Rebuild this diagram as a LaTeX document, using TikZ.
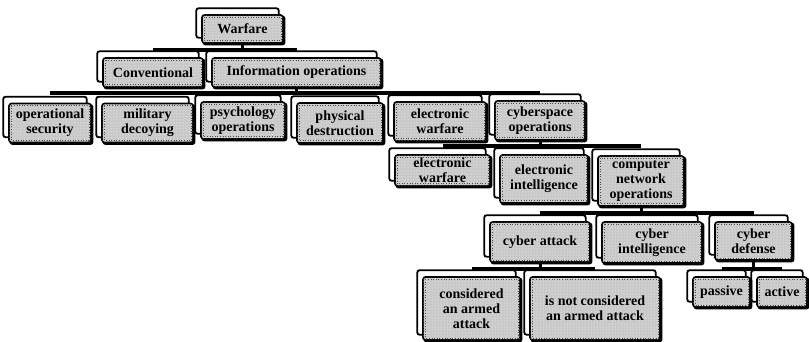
\documentclass[tikz,border=0pt]{standalone}
\usepackage{fontspec}
\setmainfont{Liberation Serif}
\usetikzlibrary{patterns}
\pgfdeclarelayer{bars}
\pgfdeclarelayer{backs}
\pgfdeclarelayer{shadows}
\pgfsetlayers{bars,backs,shadows,main}
\definecolor{boxgray}{RGB}{200,200,200}
\tikzset{
  frontbox/.style={draw=black, line width=1.6pt, rounded corners=2.5pt, fill=boxgray,
    postaction={pattern=dots, pattern color=white},
    align=center, inner sep=1pt, text=black,
    font=\fontsize{14}{14.8}\selectfont\bfseries},
  backbox/.style={draw=black, line width=1.8pt, rounded corners=2.5pt, fill=white},
  shadowbox/.style={fill=black, rounded corners=2.5pt},
  innerdots/.style={draw=black!70, line width=0.6pt, dotted},
  bar/.style={draw=black, line width=4.5pt},
  stem/.style={draw=black, line width=3pt},
}
\newcommand\obox[6]{%
  \node[frontbox, minimum width=#4pt, minimum height=#5pt] (#1) at (#2,#3) {#6};
  \begin{pgfonlayer}{backs}
    \draw[backbox] ([shift={(-5pt,6pt)}]#1.south west) rectangle ([shift={(-5pt,6pt)}]#1.north east);
  \end{pgfonlayer}
  \begin{pgfonlayer}{shadows}
    \fill[shadowbox] ([shift={(1.5pt,-1.5pt)}]#1.south west) rectangle ([shift={(1.5pt,-1.5pt)}]#1.north east);
  \end{pgfonlayer}
  \draw[innerdots] ([shift={(3pt,-3pt)}]#1.north west) rectangle ([shift={(-3pt,3pt)}]#1.south east);
}
\begin{document}
\begin{tikzpicture}[x=1pt,y=-1pt]
\useasboundingbox (0,0) rectangle (809,342);

\obox{warfare}{242.5}{29}{81}{28}{Warfare}
\obox{conv}{153}{72.5}{100}{29}{Conventional}
\obox{info}{296.5}{72.5}{169}{29}{Information operations}
\obox{opsec}{50}{123}{82}{39}{operational\\security}
\obox{decoy}{147.5}{123}{91}{39}{military\\decoying}
\obox{psych}{243}{120.5}{84}{37}{psychology\\operations}
\obox{phys}{340}{123}{86}{40}{physical\\destruction}
\obox{ew}{440}{121.5}{92}{39}{electronic\\warfare}
\obox{cyber}{540}{120.5}{90}{39}{cyberspace\\operations}
\obox{ewb}{442.5}{170.5}{95}{31}{electronic\\warfare}
\obox{elint}{544}{179}{88}{48}{electronic\\intelligence}
\obox{cno}{641}{181}{86}{50}{computer\\network\\operations}
\obox{attack}{540}{242}{100}{40}{cyber attack}
\obox{cint}{652}{242.5}{100}{41}{cyber\\intelligence}
\obox{cdef}{753.5}{241}{77}{38}{cyber\\defense}
\obox{armed}{471.5}{308.5}{97}{63}{considered\\an armed\\attack}
\obox{notarmed}{595}{308.5}{130}{63}{is not considered\\an armed attack}
\obox{passive}{721.5}{292}{57}{30}{passive}
\obox{active}{782}{292}{50}{30}{active}

\coordinate (b1) at (0,50);
\coordinate (b2) at (0,93);
\coordinate (b3) at (0,146);
\coordinate (b4) at (0,213);
\coordinate (b5) at (0,269);

\begin{pgfonlayer}{bars}
  \draw[bar] (conv.north |- b1) -- (info.north |- b1);
  \draw[stem] (warfare.south) -- (warfare.south |- b1);
  \draw[bar] (opsec.north |- b2) -- (cyber.north |- b2);
  \draw[stem] (info.south) -- (info.south |- b2);
  \draw[bar] (ewb.north |- b3) -- (cno.north |- b3);
  \draw[stem] (cyber.south) -- (cyber.south |- b3);
  \draw[bar] (attack.north |- b4) -- (cdef.north |- b4);
  \draw[stem] (cno.south) -- (cno.south |- b4);
  \draw[bar] (armed.north |- b5) -- (notarmed.north |- b5);
  \draw[stem] (attack.south) -- (attack.south |- b5);
  \draw[bar] (passive.north |- b5) -- (active.north |- b5);
  \draw[stem] (cdef.south) -- (cdef.south |- b5);
\end{pgfonlayer}
\end{tikzpicture}
\end{document}
